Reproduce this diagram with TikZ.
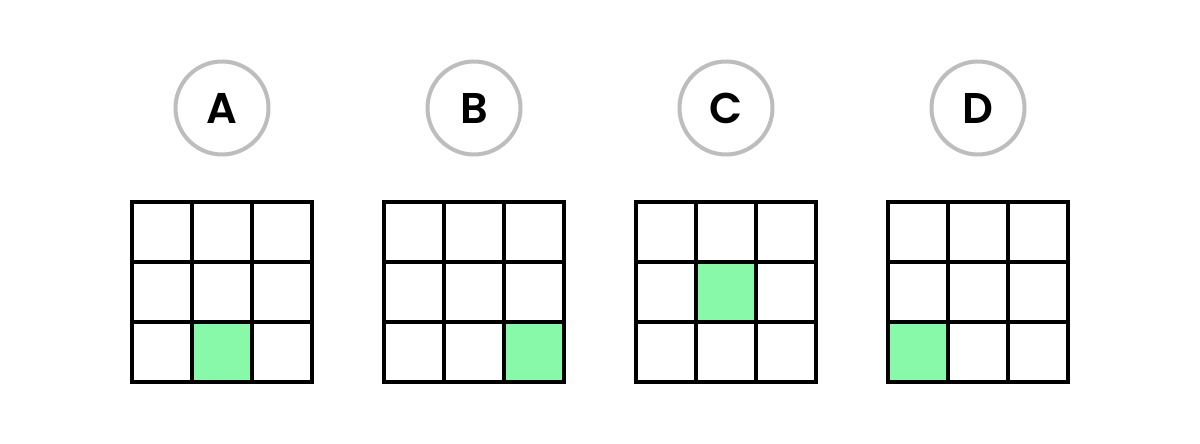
\documentclass[tikz,border=0pt]{standalone}
\usepackage{fontspec}
\newfontfamily\popfont{Poppins}[UprightFont=* SemiBold, BoldFont=* SemiBold]
\begin{document}
\begin{tikzpicture}[x=1pt,y=1pt,
  labelcircle/.style={circle, draw=circgray, line width=4pt, minimum size=93pt, inner sep=0pt, font=\popfont\fontsize{43}{43}\selectfont},
  gridline/.style={line width=4pt, draw=black, line cap=rect},
  hit/.style={fill=hitgreen}]
\definecolor{circgray}{HTML}{BDBDBD}
\definecolor{hitgreen}{HTML}{88F9A8}
\useasboundingbox (0,0) rectangle (1200,444);
\fill[white] (0,0) rectangle (1200,444);
% label circles
\foreach \L/\i in {A/0,B/1,C/2,D/3}{
  \node[labelcircle] (c\L) at ({222+252*\i},{444-108}) {\L};
}
% grids with highlighted cell: (column,row) with row 0 at top
\foreach \i/\cx/\ry in {0/1/2,1/2/2,2/1/1,3/0/2}{
  \begin{scope}[shift={({132+252*\i},{444-382})}]
    \fill[hitgreen] ({60*\cx},{180-60*\ry}) rectangle ++(60,-60);
    \draw[gridline] (0,0) grid[step=60] (180,180);
  \end{scope}
}
\end{tikzpicture}
\end{document}
